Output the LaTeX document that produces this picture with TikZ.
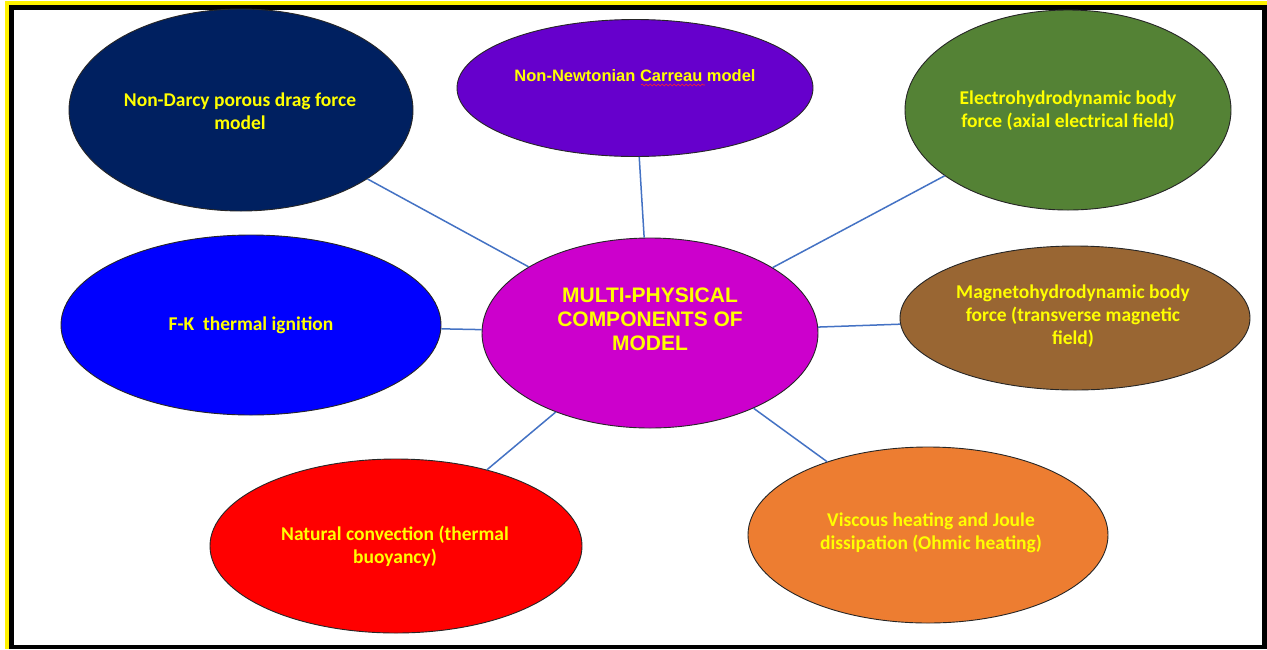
\documentclass[tikz,border=0pt]{standalone}
\usepackage{fontspec}
\setmainfont{Carlito}
\newfontfamily\arialfont{Liberation Sans}
\usepackage{tikz}
\usetikzlibrary{shapes}
\usetikzlibrary{decorations.pathmorphing}
\definecolor{navyfill}{HTML}{002060}
\definecolor{violetfill}{HTML}{6600CC}
\definecolor{greenfill}{HTML}{548235}
\definecolor{bluefill}{HTML}{0000FF}
\definecolor{magentafill}{HTML}{CC00CC}
\definecolor{brownfill}{HTML}{996633}
\definecolor{redfill}{HTML}{FF0000}
\definecolor{orangefill}{HTML}{ED7D31}
\definecolor{labelyellow}{HTML}{FFFF00}
\definecolor{spoke}{HTML}{4472C4}
\tikzset{
  bub/.style={ellipse, draw=black!85, line width=0.9pt, inner sep=0pt},
  lbl/.style={text=labelyellow, align=center, font=\fontsize{19.5}{23}\selectfont\bfseries},
  spokeline/.style={draw=spoke, line width=1.5pt}
}
\newcommand{\bubble}[8]{ \node[bub, fill=#2, minimum width=#4, minimum height=#5] (#1) at (#3) {}; \node[lbl, #7] (#1-t) at (#6) {#8};}
\newcommand{\spoke}[2]{ \draw[spokeline] (#1) -- (#2);}

\begin{document}
\begin{tikzpicture}[x=1pt,y=-1pt]
        \useasboundingbox (0,0) rectangle (1267,649);
        % frame
        \fill[white] (0,0) rectangle (1267,649);
        \fill[yellow] (5,1) rectangle (1267,649);
        \fill[black] (9,5) rectangle (1267,649);
        \fill[white] (14,10) rectangle (1262,645);
        % bubbles
        \bubble{ctr}{magentafill}{650,333}{336pt}{190pt}{650,319}{font=\arialfont\fontsize{21}{24}\selectfont\bfseries}{MULTI-PHYSICAL\\COMPONENTS OF\\MODEL}
        \bubble{drag}{navyfill}{241,110}{344pt}{202pt}{240,111}{}{Non-Darcy porous drag force\\model}
        \bubble{carreau}{violetfill}{635,88}{356pt}{137pt}{635,76}{font=\arialfont\fontsize{16.5}{20}\selectfont\bfseries}{Non-Newtonian Carreau model}
        \bubble{ehd}{greenfill}{1068,110}{326pt}{200pt}{1068,111}{}{Electrohydrodynamic body\\force (axial electrical field)}
        \bubble{fk}{bluefill}{251,325}{380pt}{180pt}{251,325}{}{F-K~ thermal ignition}
        \bubble{mhd}{brownfill}{1075,318}{350pt}{144pt}{1073,316}{}{Magnetohydrodynamic body\\force (transverse magnetic\\field)}
        \bubble{conv}{redfill}{396,546}{372pt}{174pt}{395,546}{}{Natural convection (thermal\\buoyancy)}
        \bubble{ohm}{orangefill}{928,535}{360pt}{176pt}{931,533}{}{Viscous heating and Joule\\dissipation (Ohmic heating)}
        % spell check mark
        \draw[red!85, line width=0.6pt, decorate, decoration={snake, amplitude=0.9pt, segment length=4pt}] (641,85) -- (705,85);
        % spokes
        \spoke{ctr}{drag}
        \spoke{ctr}{carreau}
        \spoke{ctr}{ehd}
        \spoke{ctr}{fk}
        \spoke{ctr}{mhd}
        \spoke{ctr}{conv}
        \spoke{ctr}{ohm}
    \end{tikzpicture}
\end{document}
